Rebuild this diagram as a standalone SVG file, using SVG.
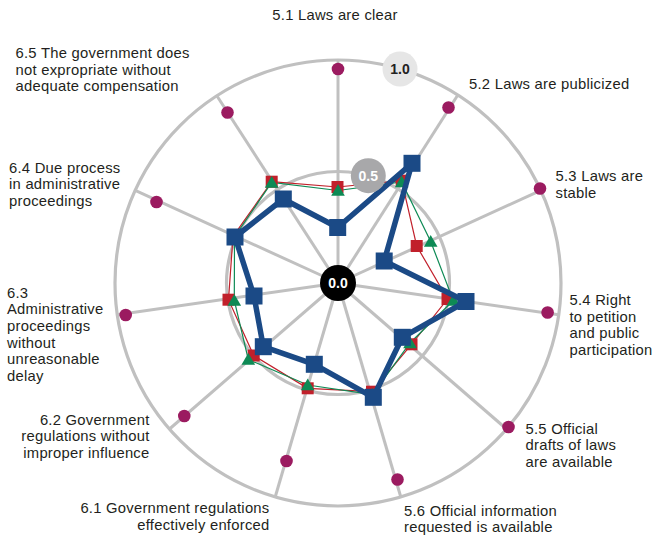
<svg xmlns="http://www.w3.org/2000/svg" xmlns:xlink="http://www.w3.org/1999/xlink" width="657" height="535" viewBox="0 0 657 535">
<style>
.lbl{font-family:"Liberation Sans",Arial,sans-serif;font-size:14.8px;letter-spacing:0.25px;fill:#231f20}
.end{text-anchor:end}
.grid{fill:none;stroke:#c0c0c0;stroke-width:3.2}
.spoke{stroke:#c0c0c0;stroke-width:3}
.num{font-family:"Liberation Sans",Arial,sans-serif;font-weight:bold;font-size:14px;text-anchor:middle}
</style>
<defs>
<rect id="bsq" x="-8.5" y="-8.5" width="17" height="17" fill="#1b4a86"/>
<rect id="rsq" x="-6" y="-6" width="12" height="12" fill="#c1202b"/>
<path id="gtri" d="M0,-6.5 L6.8,5.2 L-6.8,5.2Z" fill="#0e8a55"/>
<circle id="pdot" r="6.3" fill="#9b1b60"/>
</defs>
<rect width="657" height="535" fill="#ffffff"/>
<g id="grid">
<circle class="grid" cx="338" cy="283" r="223"/>
<circle class="grid" cx="338" cy="283" r="111.5"/>
<line class="spoke" x1="338" y1="283" x2="338" y2="60"/>
<line class="spoke" x1="338" y1="283" x2="457.5" y2="95.5"/>
<line class="spoke" x1="338" y1="283" x2="540.8" y2="190.4"/>
<line class="spoke" x1="338" y1="283" x2="558.7" y2="314.7"/>
<line class="spoke" x1="338" y1="283" x2="506.5" y2="429"/>
<line class="spoke" x1="338" y1="283" x2="400.8" y2="497"/>
<line class="spoke" x1="338" y1="283" x2="275.2" y2="497"/>
<line class="spoke" x1="338" y1="283" x2="169.5" y2="429"/>
<line class="spoke" x1="338" y1="283" x2="117.3" y2="314.7"/>
<line class="spoke" x1="338" y1="283" x2="135.2" y2="190.4"/>
<line class="spoke" x1="338" y1="283" x2="217" y2="96"/>
</g>
<g id="connectors">
<polygon points="337.5,187 401.7,180.7 416.7,246 447.5,299 411.5,344.3 372,391.7 307.7,388.3 253.7,355.5 228.5,299.7 233,236.5 271.7,181.7" fill="none" stroke="#c1202b" stroke-width="1.2"/>
<polygon points="338,190.5 401.7,182 430.7,241.5 453.3,300.5 410,343 372.5,394.5 307.7,385 248.3,359.5 234.3,300.5 234.5,237 271.7,182.5" fill="none" stroke="#0e8a55" stroke-width="1.2"/>
</g>
<g id="series-red">
<use xlink:href="#rsq" x="337.5" y="187"/>
<use xlink:href="#rsq" x="401.7" y="180.7"/>
<use xlink:href="#rsq" x="416.7" y="246"/>
<use xlink:href="#rsq" x="447.5" y="299"/>
<use xlink:href="#rsq" x="411.5" y="344.3"/>
<use xlink:href="#rsq" x="372" y="391.7"/>
<use xlink:href="#rsq" x="307.7" y="388.3"/>
<use xlink:href="#rsq" x="253.7" y="355.5"/>
<use xlink:href="#rsq" x="228.5" y="299.7"/>
<use xlink:href="#rsq" x="233" y="236.5"/>
<use xlink:href="#rsq" x="271.7" y="181.7"/>
</g>
<g id="series-green">
<use xlink:href="#gtri" x="338" y="190.5"/>
<use xlink:href="#gtri" x="401.7" y="182"/>
<use xlink:href="#gtri" x="430.7" y="241.5"/>
<use xlink:href="#gtri" x="453.3" y="300.5"/>
<use xlink:href="#gtri" x="410" y="343"/>
<use xlink:href="#gtri" x="372.5" y="394.5"/>
<use xlink:href="#gtri" x="307.7" y="385"/>
<use xlink:href="#gtri" x="248.3" y="359.5"/>
<use xlink:href="#gtri" x="234.3" y="300.5"/>
<use xlink:href="#gtri" x="234.5" y="237"/>
<use xlink:href="#gtri" x="271.7" y="182.5"/>
</g>
<g id="series-blue">
<polygon points="337.7,227.5 412,163.3 384.2,261 466,301.5 402.3,337.3 373.3,397.3 314.3,364.3 263.3,346.7 254,296 235,237 283.3,199" fill="none" stroke="#1b4a86" stroke-width="5.5" stroke-linejoin="round"/>
<use xlink:href="#bsq" x="337.7" y="227.5"/>
<use xlink:href="#bsq" x="412" y="163.3"/>
<use xlink:href="#bsq" x="384.2" y="261"/>
<use xlink:href="#bsq" x="466" y="301.5"/>
<use xlink:href="#bsq" x="402.3" y="337.3"/>
<use xlink:href="#bsq" x="373.3" y="397.3"/>
<use xlink:href="#bsq" x="314.3" y="364.3"/>
<use xlink:href="#bsq" x="263.3" y="346.7"/>
<use xlink:href="#bsq" x="254" y="296"/>
<use xlink:href="#bsq" x="235" y="237"/>
<use xlink:href="#bsq" x="283.3" y="199"/>
</g>
<g id="scale">
<circle cx="400" cy="69" r="17.5" fill="#e6e6e6"/>
<text class="num" x="400" y="74" fill="#222222">1.0</text>
<circle cx="368.3" cy="175.7" r="17.5" fill="#a8a8aa"/>
<text class="num" x="368.3" y="180.7" fill="#ffffff">0.5</text>
<circle cx="338" cy="283" r="18" fill="#000000"/>
<text class="num" x="338" y="288.3" fill="#ffffff" font-size="15">0.0</text>
</g>
<g id="axis-5-1"><use xlink:href="#pdot" x="338" y="69"/><text class="lbl" x="335" y="20" text-anchor="middle">5.1 Laws are clear</text></g>
<g id="axis-5-2"><use xlink:href="#pdot" x="448.5" y="107.5"/><text class="lbl" x="469" y="88.5">5.2 Laws are publicized</text></g>
<g id="axis-5-3"><use xlink:href="#pdot" x="540" y="188.5"/><text class="lbl" x="555.5" y="181"><tspan x="555.5">5.3 Laws are</tspan><tspan x="555.5" dy="16.7">stable</tspan></text></g>
<g id="axis-5-4"><use xlink:href="#pdot" x="547.6" y="312.5"/><text class="lbl" x="569.5" y="305"><tspan x="569.5">5.4 Right</tspan><tspan x="569.5" dy="16.7">to petition</tspan><tspan x="569.5" dy="16.7">and public</tspan><tspan x="569.5" dy="16.7">participation</tspan></text></g>
<g id="axis-5-5"><use xlink:href="#pdot" x="508.5" y="427"/><text class="lbl" x="525.5" y="433.5"><tspan x="525.5">5.5 Official</tspan><tspan x="525.5" dy="16.7">drafts of laws</tspan><tspan x="525.5" dy="16.7">are available</tspan></text></g>
<g id="axis-5-6"><use xlink:href="#pdot" x="397.5" y="479.5"/><text class="lbl" x="404" y="515.5"><tspan x="404">5.6 Official information</tspan><tspan x="404" dy="16.7">requested is available</tspan></text></g>
<g id="axis-6-1"><use xlink:href="#pdot" x="286.5" y="461"/><text class="lbl end" x="269.5" y="513"><tspan x="269.5">6.1 Government regulations</tspan><tspan x="269.5" dy="16.7">effectively enforced</tspan></text></g>
<g id="axis-6-2"><use xlink:href="#pdot" x="184.3" y="416"/><text class="lbl end" x="149.5" y="424.5"><tspan x="149.5">6.2 Government</tspan><tspan x="149.5" dy="16.7">regulations without</tspan><tspan x="149.5" dy="16.7">improper influence</tspan></text></g>
<g id="axis-6-3"><use xlink:href="#pdot" x="125.7" y="315"/><text class="lbl" x="7" y="297.5"><tspan x="7">6.3</tspan><tspan x="7" dy="16.7">Administrative</tspan><tspan x="7" dy="16.7">proceedings</tspan><tspan x="7" dy="16.7">without</tspan><tspan x="7" dy="16.7">unreasonable</tspan><tspan x="7" dy="16.7">delay</tspan></text></g>
<g id="axis-6-4"><use xlink:href="#pdot" x="156.5" y="202"/><text class="lbl" x="9" y="172.5"><tspan x="9">6.4 Due process</tspan><tspan x="9" dy="16.7">in administrative</tspan><tspan x="9" dy="16.7">proceedings</tspan></text></g>
<g id="axis-6-5"><use xlink:href="#pdot" x="227.5" y="112.5"/><text class="lbl" x="15.5" y="58"><tspan x="15.5">6.5 The government does</tspan><tspan x="15.5" dy="16.7">not expropriate without</tspan><tspan x="15.5" dy="16.7">adequate compensation</tspan></text></g>
</svg>
